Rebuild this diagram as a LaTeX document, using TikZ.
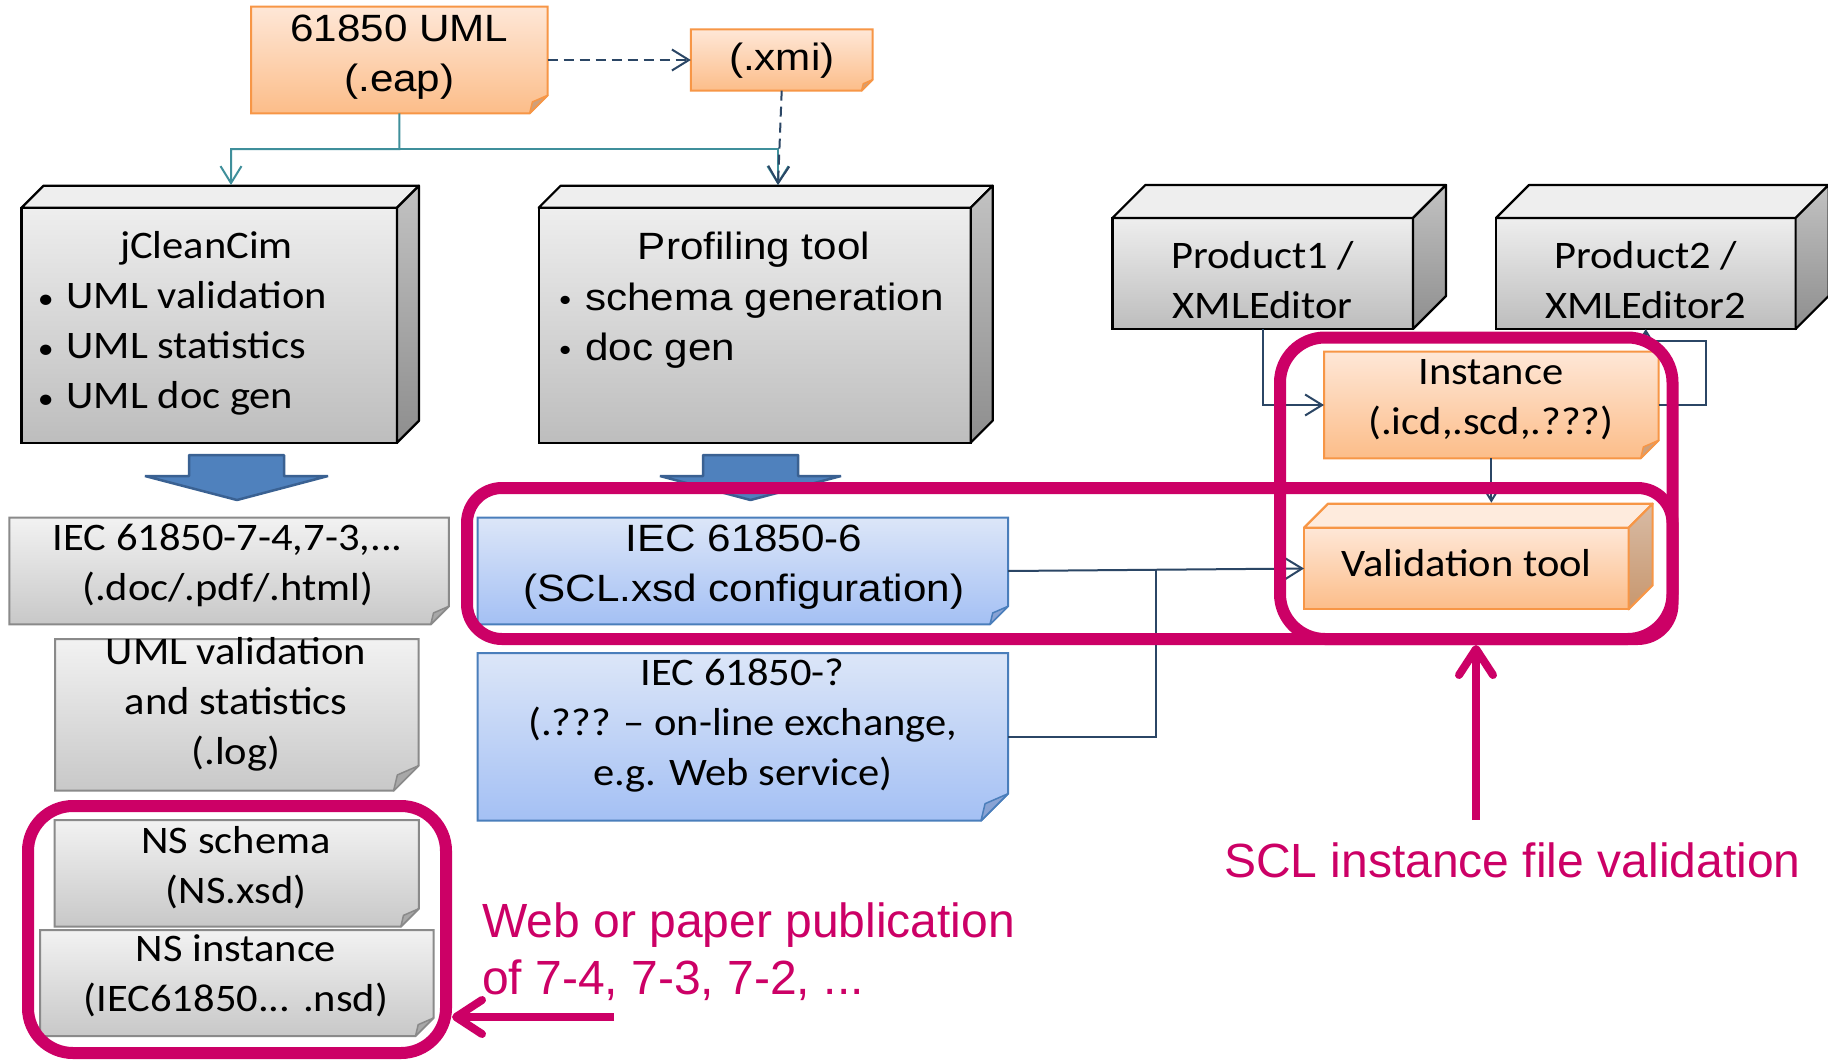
\documentclass[tikz,border=0pt]{standalone}
\usepackage{fontspec}
\setmainfont{Carlito}
\newfontfamily\calf[FakeStretch=1.09]{Carlito}
\newfontfamily\arf[FakeStretch=1.11]{Liberation Sans}
\newfontfamily\pkf{Liberation Sans}
\usetikzlibrary{fit,calc,arrows.meta}
\definecolor{pk}{HTML}{CC0066}
\definecolor{nv}{HTML}{2B4665}
\definecolor{tl}{HTML}{3F8F9B}
\definecolor{orT}{HTML}{FEE7D7}
\definecolor{orB}{HTML}{FCBD89}
\definecolor{orD}{HTML}{F79646}
\definecolor{orF}{HTML}{CFA07A}
\definecolor{grT}{HTML}{F2F2F2}
\definecolor{grB}{HTML}{C8C8C8}
\definecolor{grD}{HTML}{8A8A8A}
\definecolor{grF}{HTML}{A8A8A8}
\definecolor{blT}{HTML}{DCE6F8}
\definecolor{blB}{HTML}{A4C0F4}
\definecolor{blD}{HTML}{4A7EBB}
\definecolor{blF}{HTML}{89A3D4}
\definecolor{cuT}{HTML}{EEEEEE}
\definecolor{cuB}{HTML}{BDBDBD}
\definecolor{cuS1}{HTML}{C2C2C2}
\definecolor{cuS2}{HTML}{8E8E8E}
\definecolor{vaTop}{HTML}{FEEBDD}
\definecolor{vaS1}{HTML}{D8BBA5}
\definecolor{vaS2}{HTML}{C8976E}
\definecolor{arF}{HTML}{4F81BD}
\definecolor{arD}{HTML}{3A6192}
\newcommand\drawnote[6]{%
  \shade[top color=#3, bottom color=#4, draw=#5, line width=2pt]
    (#1.north west) -- (#1.north east) -- ([yshift=#2pt]#1.south east)
    -- ([xshift=-#2pt]#1.south east) -- (#1.south west) -- cycle;
  \path[fill=#6, draw=#5, line width=1.5pt, line join=round]
    ([yshift=#2pt]#1.south east) -- ([xshift=-#2pt]#1.south east)
    -- ([xshift=-0.85*#2pt, yshift=0.63*#2pt]#1.south east) -- cycle;
}
\newcommand\drawcube[8]{%
  \shade[top color=#3, bottom color=#4, draw=#8, line width=2.2pt]
    (#1.north west) rectangle (#1.south east);
  \path[fill=#5, draw=#8, line width=2.2pt, line join=round]
    (#1.north west) -- ++(#2,-#2) -- ($(#1.north east)+(#2,-#2)$) -- (#1.north east) -- cycle;
  \shade[top color=#6, bottom color=#7, draw=#8, line width=2.2pt, line join=round]
    (#1.north east) -- ++(#2,-#2) -- ($(#1.south east)+(#2,-#2)$) -- (#1.south east) -- cycle;
}
\newcommand\bul{\makebox[16pt][c]{\scalebox{0.75}{•}}\hspace{13pt}}
\newcommand\bua{\makebox[16pt][c]{\scalebox{0.8}{•}}\hspace{12pt}}
\tikzset{
  geo/.style={inner sep=0pt, outer sep=0pt},
  cal/.style={font=\calf\fontsize{39}{50}\selectfont, inner sep=0pt, align=center, anchor=north},
  ari/.style={font=\arf\fontsize{38}{50}\selectfont, inner sep=0pt, align=center, anchor=north},
  pkt/.style={font=\pkf\fontsize{48}{57}\selectfont, text=pk, inner sep=0pt, align=left},
  pinkbox/.style={draw=pk, line width=12pt, inner sep=0pt, outer sep=6pt},
  pkarrow/.style={draw=pk, line width=8pt, -{Straight Barb[length=26pt,width=34pt,round]}},
  navyline/.style={draw=nv, line width=2pt},
  tealline/.style={draw=tl, line width=2pt},
  bigarr/.style={-{Straight Barb[length=17pt,width=21pt]}},
  smallarr/.style={-{Straight Barb[length=9pt,width=11pt]}},
  blockarrow/.style={fill=arF, draw=arD, line width=2.5pt, line join=bevel}
}
\begin{document}
\begin{tikzpicture}[x=1pt,y=-1pt]
\useasboundingbox (0,0) rectangle (1828,1060);
\fill[white] (0,0) rectangle (1828,1060);

% block arrows
\path[blockarrow] (189,455) -- (284,455) -- (284,476) -- (328,476) -- (237,500) -- (145,476) -- (189,476) -- cycle;
\path[blockarrow] (703,455) -- (798,455) -- (798,476) -- (841,476) -- (750.5,500) -- (660,476) -- (703,476) -- cycle;

% geometry nodes
\node[geo, fit={(251,6.7) (547.7,113.3)}] (eap) {};
\node[geo, fit={(690.8,29.3) (872.6,90.7)}] (xmi) {};
\node[geo, fit={(21.5,207.7) (397,442.7)}] (jc) {};
\node[geo, fit={(538.7,207.7) (970.7,442.7)}] (pr) {};
\node[geo, fit={(1112.4,218) (1413,329)}] (p1) {};
\node[geo, fit={(1496,218) (1795.6,329)}] (p2) {};
\node[geo, fit={(1324,351.7) (1658.7,458.3)}] (inst) {};
\node[geo, fit={(1304,527.7) (1628.6,609.3)}] (val) {};
\node[geo, fit={(9.4,517.7) (448.8,624.3)}] (i74) {};
\node[geo, fit={(477.5,517.7) (1008,624.3)}] (i6) {};
\node[geo, fit={(55,639) (418.6,790.7)}] (uml) {};
\node[geo, fit={(477.5,653) (1008,820.7)}] (iq) {};
\node[geo, fit={(54.7,820) (418.8,926.7)}] (nss) {};
\node[geo, fit={(40,930) (433.5,1036)}] (nsi) {};

% shapes
\drawnote{eap}{18}{orT}{orB}{orD}{orF}
\drawnote{xmi}{11}{orT}{orB}{orD}{orF}
\drawnote{inst}{18}{orT}{orB}{orD}{orF}
\drawnote{i74}{18}{grT}{grB}{grD}{grF}
\drawnote{uml}{25}{grT}{grB}{grD}{grF}
\drawnote{nss}{18}{grT}{grB}{grD}{grF}
\drawnote{nsi}{18}{grT}{grB}{grD}{grF}
\drawnote{i6}{18}{blT}{blB}{blD}{blF}
\drawnote{iq}{27}{blT}{blB}{blD}{blF}
\drawcube{jc}{22}{cuT}{cuB}{cuT}{cuS1}{cuS2}{black}
\drawcube{pr}{22}{cuT}{cuB}{cuT}{cuS1}{cuS2}{black}
\drawcube{p1}{33}{cuT}{cuB}{cuT}{cuS1}{cuS2}{black}
\drawcube{p2}{33}{cuT}{cuB}{cuT}{cuS1}{cuS2}{black}
\drawcube{val}{24}{orT}{orB}{vaTop}{vaS1}{vaS2}{orD}

% connectors
\coordinate (tj) at (399.35,149);
\coordinate (jcin) at (231,185);
\coordinate (prin) at (778,185);
\coordinate (c4) at (1706,340.7);
\coordinate (jn) at (1156,569);
\draw[navyline, bigarr, dash pattern=on 10pt off 6pt] (eap.east) -- (xmi.west);
\draw[tealline, bigarr] (eap.south) -- (tj) -| (jcin);
\draw[tealline, bigarr] (tj) -| (prin);
\draw[navyline, bigarr, dash pattern=on 10pt off 6pt] (xmi.south) -- (prin);
\draw[navyline, bigarr] (p1.south) |- (inst.west);
\draw[navyline, smallarr] (inst.east) -| (c4) -| (p2.south);
\draw[navyline, smallarr] (inst.south) -- ($(inst.south |- val.north)+(0,-25)$);
\draw[navyline, bigarr] (i6.east) -- (val.west);
\draw[navyline] (iq.east) -| (jn);

% texts
\node[ari] (eapT) at (399.35,6.7) {\strut 61850 UML\\(.eap)};
\node[ari] (xmiT) at (781.7,35) {\strut (.xmi)};
\node[cal] (jcT) at (206.5,223.3) {\strut jCleanCim};
\node[cal, anchor=north west, align=left] (jcL) at (37.5,273.3) {\strut\bul UML validation\\ \bul UML statistics\\ \bul UML doc gen};
\node[ari] (prT) at (754,224.3) {\strut Profiling tool};
\node[ari, anchor=north west, align=left] (prL) at (557,275) {\strut\bua schema generation\\ \bua doc gen};
\node[cal] (p1T) at (1262.7,233.3) {\strut Product1 /\\XMLEditor};
\node[cal] (p2T) at (1645.8,233.3) {\strut Product2 /\\XMLEditor2};
\node[cal] (instT) at (1491,349.3) {\strut Instance\\(.icd,.scd,.???)};
\node[cal] (valT) at (1466.6,541) {\strut Validation tool};
\node[cal] (i74T) at (227.7,515) {\strut IEC 61850-7-4,7-3,...\\(.doc/.pdf/.html)};
\node[ari] (i6T) at (744,516.7) {\strut IEC 61850-6\\(SCL.xsd configuration)};
\node[cal] (umlT) at (236,629) {\strut UML validation\\and statistics\\(.log)};
\node[cal] (iqT) at (742.8,650) {\strut IEC 61850-?\\(.??? – on-line exchange,\\e.g. Web service)};
\node[cal] (nssT) at (236,818.3) {\strut NS schema\\(NS.xsd)};
\node[cal] (nsiT) at (236,926.7) {\strut NS instance\\(IEC61850... .nsd)};
\node[pkt, anchor=north west] (pubT) at (482,897.1) {\strut Web or paper publication\\of 7-4, 7-3, 7-2, ...};
\node[pkt, anchor=base west] (sclT) at (1224,877) {SCL instance file validation};

% pink highlights
\node[pinkbox, fit={(467,488) (1672.5,639)}, rounded corners=35pt] (r1) {};
\node[pinkbox, fit={(1280,337.5) (1672.5,639)}, rounded corners=45pt] (r2) {};
\node[pinkbox, fit={(28,806) (446,1053)}, rounded corners=45pt] (r3) {};
\coordinate (pubtail) at (614,1017);
\coordinate (scltail) at (1476,820);
\draw[pkarrow] (pubtail) -- (pubtail -| r3.east);
\draw[pkarrow] (scltail) -- (scltail |- r1.south);
\end{tikzpicture}
\end{document}
